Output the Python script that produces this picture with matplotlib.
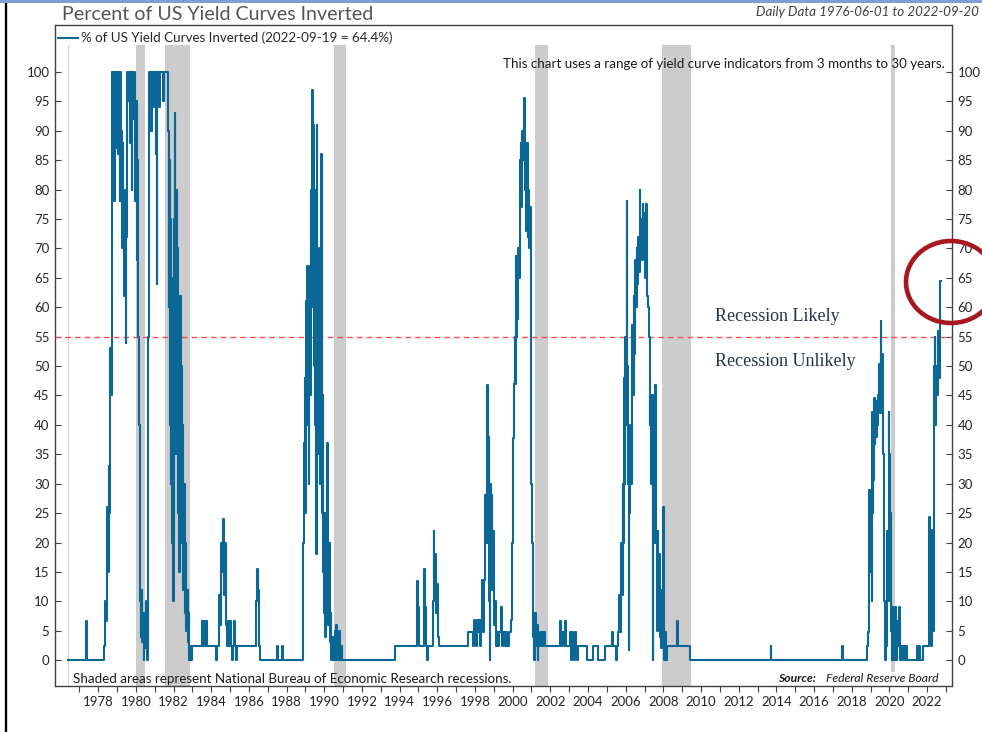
"""
Percent of US yield curves inverted, 1976-2022
"""
import matplotlib
matplotlib.use("Agg")
import matplotlib.pyplot as plt
from matplotlib.patches import Ellipse, Rectangle
from matplotlib.lines import Line2D

# NBER recessions (decimal years)
rec_start = [1980.00, 1981.54, 1990.50, 2001.17, 2007.92, 2020.08]
rec_end = [1980.50, 1982.87, 1991.17, 2001.87, 2009.45, 2020.30]

# (decimal year, % of curves inverted), step data
era_1976_1983 = [
    (1976.42, 0), (1977.38, 6.6), (1977.43, 0), (1978.33, 2.4), (1978.36, 6.6),
    (1978.38, 10), (1978.42, 6.6), (1978.45, 20), (1978.48, 26), (1978.52, 15),
    (1978.55, 33), (1978.58, 25), (1978.62, 40), (1978.65, 53), (1978.68, 45),
    (1978.72, 53), (1978.76, 100), (1978.80, 87), (1978.83, 100), (1978.86, 78),
    (1978.88, 100), (1978.92, 87), (1978.95, 100), (1979.00, 92), (1979.03, 100),
    (1979.06, 86), (1979.10, 100), (1979.15, 78), (1979.18, 100), (1979.22, 90),
    (1979.26, 70), (1979.30, 88), (1979.34, 75), (1979.38, 62), (1979.42, 80),
    (1979.46, 54), (1979.50, 72), (1979.54, 100), (1979.60, 95), (1979.63, 100),
    (1979.68, 88), (1979.72, 100), (1979.78, 80), (1979.82, 100), (1979.86, 92),
    (1979.90, 100), (1979.95, 78), (1980.00, 95), (1980.05, 68), (1980.08, 85),
    (1980.12, 55), (1980.16, 40), (1980.20, 20), (1980.23, 10), (1980.26, 4),
    (1980.30, 12), (1980.34, 3), (1980.38, 8), (1980.42, 0), (1980.46, 5),
    (1980.50, 2), (1980.55, 10), (1980.60, 0), (1980.64, 30), (1980.66, 55),
    (1980.69, 80), (1980.72, 100), (1980.80, 90), (1980.84, 100), (1980.95, 94),
    (1981.00, 100), (1981.05, 86), (1981.08, 100), (1981.12, 64), (1981.15, 100),
    (1981.25, 94), (1981.28, 100), (1981.45, 95), (1981.48, 100), (1981.70, 90),
    (1981.74, 60), (1981.77, 85), (1981.80, 40), (1981.83, 75), (1981.86, 30),
    (1981.89, 65), (1981.92, 20), (1981.95, 55), (1981.98, 10), (1982.01, 45),
    (1982.04, 75), (1982.07, 93), (1982.09, 60), (1982.12, 35), (1982.15, 80),
    (1982.18, 50), (1982.21, 70), (1982.24, 25), (1982.27, 55), (1982.30, 15),
    (1982.33, 45), (1982.36, 62), (1982.39, 30), (1982.42, 50), (1982.45, 20),
    (1982.48, 40), (1982.52, 12), (1982.56, 30), (1982.60, 8), (1982.64, 20),
    (1982.68, 5), (1982.72, 12), (1982.76, 3), (1982.80, 8), (1982.84, 0),
    (1982.88, 2.4), (1982.92, 0), (1982.96, 2.4),
]

era_1983_1993 = [
    (1983.50, 6.6), (1983.55, 2.4), (1983.60, 6.6), (1983.65, 2.4), (1983.70, 6.6),
    (1983.78, 2.4), (1984.25, 0), (1984.30, 2.4), (1984.40, 11), (1984.45, 6),
    (1984.50, 20), (1984.55, 15), (1984.62, 24), (1984.66, 18), (1984.70, 11),
    (1984.75, 20), (1984.80, 6), (1984.85, 2.4), (1984.90, 6.6), (1984.95, 2.4),
    (1985.00, 6.6), (1985.05, 2.4), (1985.10, 0), (1985.14, 2.4), (1985.20, 6.6),
    (1985.26, 2.4), (1985.32, 0), (1985.36, 2.4), (1986.38, 10), (1986.42, 15.5),
    (1986.48, 12), (1986.52, 6.6), (1986.55, 2.4), (1986.58, 0), (1987.50, 2.4),
    (1987.53, 0), (1987.78, 2.4), (1987.82, 0), (1988.88, 20), (1988.92, 37),
    (1988.96, 48), (1989.00, 25), (1989.03, 61), (1989.06, 40), (1989.09, 67),
    (1989.12, 50), (1989.15, 61), (1989.18, 30), (1989.21, 55), (1989.24, 67),
    (1989.27, 45), (1989.30, 80), (1989.33, 60), (1989.37, 97), (1989.40, 70),
    (1989.43, 91), (1989.46, 50), (1989.49, 80), (1989.52, 40), (1989.55, 65),
    (1989.58, 18), (1989.61, 91), (1989.64, 55), (1989.67, 70), (1989.70, 35),
    (1989.73, 60), (1989.76, 30), (1989.80, 50), (1989.83, 86), (1989.86, 40),
    (1989.89, 25), (1989.92, 45), (1989.95, 15), (1989.98, 8), (1990.02, 25),
    (1990.06, 4), (1990.10, 12), (1990.14, 37), (1990.18, 15), (1990.22, 6),
    (1990.26, 20), (1990.30, 3), (1990.34, 8), (1990.38, 0), (1990.42, 4),
    (1990.48, 0), (1990.55, 5), (1990.60, 0), (1990.65, 6), (1990.70, 2.4),
    (1990.75, 0), (1990.80, 5), (1990.85, 0), (1990.90, 2.4), (1990.95, 0),
]

era_1993_2002 = [
    (1993.76, 2.4), (1994.93, 13.4), (1994.97, 9), (1995.02, 2.4), (1995.30, 15.5),
    (1995.35, 9), (1995.40, 2.4), (1995.48, 0), (1995.52, 2.4), (1995.75, 10),
    (1995.80, 22), (1995.85, 14), (1995.90, 18), (1995.95, 8), (1996.00, 13),
    (1996.05, 4), (1996.10, 2.4), (1997.65, 4.8), (1997.90, 2.4), (1997.95, 6.8),
    (1998.00, 4.8), (1998.05, 2.4), (1998.10, 6.8), (1998.15, 4.8), (1998.20, 6.8),
    (1998.25, 2.4), (1998.30, 6.8), (1998.40, 13.6), (1998.45, 4.8), (1998.50, 13.6),
    (1998.55, 28), (1998.60, 20), (1998.65, 46.7), (1998.68, 20), (1998.72, 38),
    (1998.75, 10), (1998.78, 0), (1998.80, 30), (1998.84, 15), (1998.88, 28),
    (1998.92, 12), (1998.96, 22), (1999.00, 6), (1999.05, 10), (1999.10, 2.4),
    (1999.15, 4.8), (1999.22, 2.4), (1999.30, 4.8), (1999.40, 9), (1999.45, 2.4),
    (1999.50, 4.8), (1999.58, 2.4), (1999.65, 4.8), (1999.72, 2.4), (1999.80, 4.8),
    (1999.90, 6.8), (1999.98, 20), (2000.02, 37.8), (2000.06, 47), (2000.10, 55),
    (2000.13, 47), (2000.16, 68.8), (2000.19, 55), (2000.22, 62), (2000.26, 58),
    (2000.30, 70), (2000.34, 65), (2000.38, 85), (2000.42, 88), (2000.46, 77),
    (2000.50, 90), (2000.55, 85), (2000.60, 95.6), (2000.64, 80), (2000.68, 88),
    (2000.72, 73), (2000.76, 88), (2000.80, 72), (2000.84, 80), (2000.88, 70),
    (2000.92, 77), (2000.96, 65), (2001.00, 30), (2001.03, 20), (2001.06, 9),
    (2001.10, 4), (2001.15, 0), (2001.20, 8), (2001.24, 2.4), (2001.28, 6),
    (2001.32, 0), (2001.36, 4.8), (2001.42, 2.4), (2001.48, 4.8), (2001.55, 2.4),
    (2001.62, 4.8), (2001.70, 2.4),
]

era_2002_2010 = [
    (2002.50, 6.6), (2002.55, 2.4), (2002.62, 4.8), (2002.70, 2.4), (2002.78, 6.6),
    (2002.82, 2.4), (2003.05, 4.8), (2003.10, 0), (2003.15, 4.8), (2003.20, 2.4),
    (2003.25, 0), (2003.32, 4.8), (2003.37, 2.4), (2003.42, 0), (2003.47, 2.4),
    (2003.95, 0), (2004.27, 2.4), (2004.55, 0), (2004.90, 2.4), (2005.28, 4.8),
    (2005.32, 2.4), (2005.48, 0), (2005.55, 2.4), (2005.60, 4.8), (2005.65, 11),
    (2005.70, 4.8), (2005.75, 20), (2005.80, 11), (2005.85, 30), (2005.88, 20),
    (2005.92, 48), (2005.95, 30), (2005.98, 55), (2006.02, 40), (2006.06, 78),
    (2006.09, 50), (2006.12, 30), (2006.16, 1.8), (2006.20, 25), (2006.25, 40),
    (2006.30, 30), (2006.34, 57), (2006.38, 45), (2006.42, 62), (2006.46, 52),
    (2006.50, 68), (2006.54, 60), (2006.58, 70), (2006.62, 64), (2006.66, 72),
    (2006.70, 66), (2006.74, 80), (2006.78, 70), (2006.82, 75), (2006.86, 68),
    (2006.90, 77.6), (2006.94, 70), (2006.98, 76), (2007.02, 65), (2007.08, 77.6),
    (2007.12, 62), (2007.18, 60), (2007.22, 55), (2007.27, 40), (2007.31, 45),
    (2007.35, 30), (2007.39, 45), (2007.43, 0), (2007.46, 35), (2007.50, 20),
    (2007.54, 30), (2007.57, 46.7), (2007.60, 38), (2007.63, 20), (2007.66, 5),
    (2007.70, 22), (2007.74, 8), (2007.78, 18), (2007.82, 4), (2007.86, 12),
    (2007.90, 2), (2007.94, 10), (2007.98, 26), (2008.01, 5), (2008.05, 0),
    (2008.09, 4.8), (2008.13, 0), (2008.17, 2.4), (2008.75, 6.6), (2008.79, 2.4),
    (2009.40, 0),
]

era_2010_2022 = [
    (2013.70, 2.4), (2013.73, 0), (2017.50, 2.4), (2017.53, 0), (2018.79, 2.4),
    (2018.86, 4.8), (2018.90, 10), (2018.93, 29), (2018.97, 15), (2019.01, 22),
    (2019.05, 10), (2019.08, 42.2), (2019.11, 25), (2019.14, 30.6), (2019.17, 44.5),
    (2019.21, 36.8), (2019.25, 42), (2019.29, 38), (2019.33, 44), (2019.37, 40),
    (2019.41, 45), (2019.45, 50.4), (2019.50, 42), (2019.53, 57.7), (2019.56, 50),
    (2019.59, 44), (2019.62, 52), (2019.66, 35), (2019.69, 20), (2019.72, 10),
    (2019.76, 0), (2019.80, 6), (2019.84, 2.4), (2019.88, 22), (2019.92, 10),
    (2019.96, 42.2), (2020.00, 35), (2020.04, 25), (2020.08, 5), (2020.12, 0),
    (2020.15, 9), (2020.18, 2.4), (2020.21, 6.6), (2020.25, 0), (2020.29, 9),
    (2020.33, 2.4), (2020.37, 0), (2020.41, 6.6), (2020.45, 2.4), (2020.50, 9),
    (2020.54, 0), (2020.60, 2.4), (2020.66, 0), (2020.74, 2.4), (2020.80, 0),
    (2020.86, 2.4), (2020.92, 0), (2021.45, 2.4), (2021.52, 0), (2021.56, 2.4),
    (2021.62, 0), (2021.77, 2.4), (2022.10, 11), (2022.12, 24.4), (2022.14, 5),
    (2022.18, 2.4), (2022.28, 22.1), (2022.30, 5), (2022.34, 35), (2022.38, 50),
    (2022.41, 55), (2022.44, 40), (2022.48, 50), (2022.52, 45), (2022.56, 56),
    (2022.60, 48), (2022.66, 56), (2022.70, 64.4), (2022.72, 64.4),
]

threshold = 55
y_ticks = list(range(0, 101, 5))
x_major = list(range(1978, 2023, 2))
x_minor = list(range(1977, 2024, 2))

LINE = "#0b6896"
TXT = "#262626"
FONT = "Lato"

W, H = 982, 732


def fx(px):
    return px / W


def fy(py):
    return 1 - py / H


fig = plt.figure(figsize=(W / 100, H / 100), dpi=100)
ax = fig.add_axes([fx(55), fy(686), fx(952) - fx(55), fy(25) - fy(686)])

# recession shading
for s, e in zip(rec_start, rec_end):
    lo = 0.021 if s > 2015 else 0.0
    ax.axvspan(s, e, ymin=lo, ymax=0.97, color="#cccccc", lw=0, zorder=0)

points = era_1976_1983 + era_1983_1993 + era_1993_2002 + era_2002_2010 + era_2010_2022
xs = [p[0] for p in points]
ys = [p[1] for p in points]
ax.axvline(xs[0], ymin=0, ymax=0.97, color="#d5d5d5", lw=0.8, zorder=0.5)
ax.step(xs, ys, where="post", color=LINE, lw=1.5, zorder=3,
        label="% of US Yield Curves Inverted (2022-09-19 = 64.4%)")

ax.axhline(threshold, color="#ff4a4a", lw=1.0, dashes=(4, 3), zorder=2)

ax.set_xlim(1975.71, 2023.32)
ax.set_ylim(-4.4, 108)
ax.set_yticks(y_ticks)
ax.set_xticks(x_major)
ax.set_xticks(x_minor, minor=True)
ax.set_xticklabels([str(y) for y in x_major])

for sp in ax.spines.values():
    sp.set_color("#404040")
    sp.set_linewidth(1.0)

ax.tick_params(axis="y", which="both", direction="in", length=4, width=0.8,
               colors="#404040", labelcolor=TXT, left=True, right=True,
               labelleft=True, labelright=True, pad=4, labelsize=9.5)
ax.tick_params(axis="x", which="both", direction="out", length=4, width=0.8,
               colors="#404040", labelcolor=TXT, pad=3, labelsize=9.5)
for lab in ax.get_xticklabels() + ax.get_yticklabels():
    lab.set_fontfamily(FONT)
for t in ax.yaxis.get_major_ticks():
    t.label2.set_fontfamily(FONT)

leg = ax.legend(loc="upper left", bbox_to_anchor=(0.0, 0.995), frameon=False,
                handlelength=1.5, handletextpad=0.2, borderaxespad=0.1,
                borderpad=0.15, prop={"family": FONT, "size": 9.6})
for t in leg.get_texts():
    t.set_color(TXT)

# annotations inside the plot
ax.text(0.9915, 0.941, "This chart uses a range of yield curve indicators from 3 months to 30 years.",
        transform=ax.transAxes, ha="right", va="center", fontsize=9.6,
        family=FONT, color="#1a1a1a")
ax.text(2010.75, 58.5, "Recession Likely", ha="left", va="center", fontsize=13,
        family="Liberation Serif", color="#253447")
ax.text(2010.75, 50.8, "Recession Unlikely", ha="left", va="center", fontsize=13,
        family="Liberation Serif", color="#253447")

fig.text(fx(73), fy(679), "Shaded areas represent National Bureau of Economic Research recessions.",
         ha="left", va="center", fontsize=9.6, family=FONT, color="#1a1a1a")
fig.text(fx(816), fy(679), "Source:", ha="right", va="center", fontsize=8.7,
         family=FONT, style="italic", weight="bold", color="#1a1a1a")
fig.text(fx(938), fy(679), "Federal Reserve Board", ha="right", va="center",
         fontsize=8.7, family=FONT, style="italic", color="#1a1a1a")

# header
fig.text(fx(62), fy(15), "Percent of US Yield Curves Inverted", ha="left", va="center",
         fontsize=14.1, family=FONT, color="#555555")
fig.text(fx(979), fy(12), "Daily Data 1976-06-01 to 2022-09-20", ha="right", va="center",
         fontsize=9.6, family=FONT, style="italic", color="#404040")

# page decorations
fig.patches.append(Rectangle((0, fy(3)), 1, fy(0) - fy(3), transform=fig.transFigure,
                             color="#7f9fd2", lw=0, zorder=5))
fig.lines.append(Line2D([fx(6), fx(6)], [0, fy(3)], transform=fig.transFigure,
                        color="black", lw=1.7))

# red circle highlighting the latest reading
fig.patches.append(Ellipse((fx(951), fy(282)), 90 / W, 82 / H, transform=fig.transFigure,
                           fill=False, edgecolor="#a8161e", lw=3.3, zorder=6))

fig.savefig("out.png", dpi=100)
